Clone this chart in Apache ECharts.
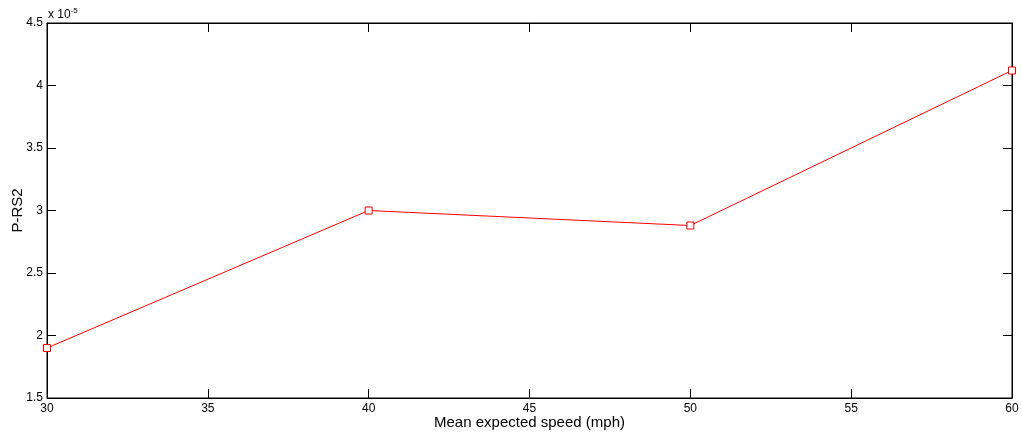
<!DOCTYPE html>
<html>
<head>
<meta charset="utf-8">
<script src="https://cdn.jsdelivr.net/npm/echarts@6/dist/echarts.min.js"></script>
<style>html,body{margin:0;padding:0;background:#fff}#c{width:1022px;height:439px}</style>
</head>
<body>
<div id="c"></div>
<script>
const speeds = [30, 40, 50, 60];
const prs2 = [1.90e-5, 3.00e-5, 2.88e-5, 4.12e-5];
const xTicks = [30, 35, 40, 45, 50, 55, 60];
const yTicks = [1.5, 2, 2.5, 3, 3.5, 4, 4.5];
const scale = 1e-5;

const font = 'Liberation Sans, Arial, sans-serif';
const chart = echarts.init(document.getElementById('c'));
const axisLine = {show: true, lineStyle: {color: '#000', width: 1}};
const tick = {show: true, inside: true, length: 9, lineStyle: {color: '#000'}};
chart.setOption({
  animation: false,
  grid: {left: 47, right: 10, top: 23, bottom: 41, show: true, borderColor: '#000', borderWidth: 1,
         containLabel: false, outerBoundsMode: 'none'},
  xAxis: [{
    type: 'value', min: 30, max: 60, interval: 5,
    axisLine: axisLine, axisTick: tick, splitLine: {show: false},
    axisLabel: {color: '#000', fontSize: 12, fontFamily: font, margin: 5},
    name: 'Mean expected speed (mph)', nameLocation: 'middle', nameGap: 17, nameMoveOverlap: false,
    nameTextStyle: {color: '#000', fontSize: 15, fontFamily: font}
  }, {
    type: 'value', position: 'top', min: 30, max: 60, interval: 5,
    axisLine: axisLine, axisTick: tick, axisLabel: {show: false}, splitLine: {show: false}
  }],
  yAxis: [{
    type: 'value', min: 1.5 * scale, max: 4.5 * scale, interval: 0.5 * scale,
    axisLine: axisLine, axisTick: tick, splitLine: {show: false},
    axisLabel: {color: '#000', fontSize: 12, fontFamily: font, margin: 4,
      formatter: v => String(Math.round(v / scale * 10) / 10)},
    name: 'P-RS2', nameLocation: 'middle', nameGap: 22, nameRotate: 90, nameMoveOverlap: false,
    nameTextStyle: {color: '#000', fontSize: 15, fontFamily: font}
  }, {
    type: 'value', position: 'right', min: 1.5 * scale, max: 4.5 * scale, interval: 0.5 * scale,
    axisLine: axisLine, axisTick: tick, axisLabel: {show: false}, splitLine: {show: false}
  }],
  graphic: [{
    type: 'text', left: 48, top: 7,
    style: {
      text: '{a|x 10}{b|-5}',
      rich: {
        a: {fontSize: 12, fontFamily: font, fill: '#000'},
        b: {fontSize: 8, fontFamily: font, fill: '#000', verticalAlign: 'top', padding: [0, 0, 7, 0]}
      }
    }
  }],
  series: [{
    type: 'line',
    data: speeds.map((s, i) => [s, prs2[i]]),
    lineStyle: {color: '#ff0000', width: 1},
    itemStyle: {color: '#fff', borderColor: '#ff0000', borderWidth: 1},
    symbol: 'rect', symbolSize: 7, showSymbol: true
  }]
});
</script>
</body>
</html>
